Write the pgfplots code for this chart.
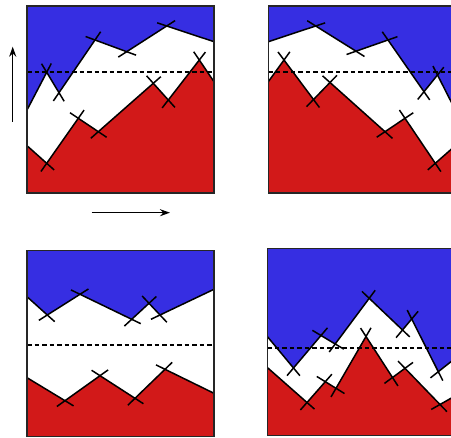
\documentclass[border=0pt]{standalone}
\usepackage{pgfplots}
\pgfplotsset{compat=1.18}
\usetikzlibrary{arrows.meta}

\definecolor{topblue}{RGB}{54,46,226}
\definecolor{botred}{RGB}{210,25,25}

\pgfplotsset{
  panel/.style={scale only axis, width=187pt, height=187pt, y dir=reverse,
    xtick=\empty, ytick=\empty, axis on top, anchor=south west,
    axis line style={line width=1.2pt, black!85}},
  edge/.style={black, line width=1.5pt, shorten <=-10pt, shorten >=-10pt,
    quiver={u=\thisrow{x2}-\thisrow{x}, v=\thisrow{y2}-\thisrow{y}}},
  level/.style={black, line width=2.3pt, dash pattern=on 4.5pt off 3pt},
}

\begin{document}
\begin{tikzpicture}
\useasboundingbox (0,0) rectangle (451pt,438pt);
\clip (0,0) rectangle (451pt,438pt);

% top left
\begin{axis}[panel, at={(27pt,245pt)}, xmin=27, xmax=214, ymin=6, ymax=193]
  \addplot[draw=none, fill=topblue] coordinates {
    (27,110) (46.7,72.3) (59,92.7) (95,40) (126.7,51.7) (166.7,26) (214,41.7) (214,6) (27,6)};
  \addplot[draw=none, fill=botred] coordinates {
    (27,145.7) (46.7,163.3) (78.3,118.3) (98.3,131.7) (153.3,83.3) (168.3,100) (199.3,60) (214,81.7) (214,193) (27,193)};
  \addplot[edge] table {
    x y x2 y2
    27 110 46.7 72.3
    46.7 72.3 59 92.7
    59 92.7 95 40
    95 40 126.7 51.7
    126.7 51.7 166.7 26
    166.7 26 214 41.7
  };
  \addplot[edge] table {
    x y x2 y2
    27 145.7 46.7 163.3
    46.7 163.3 78.3 118.3
    78.3 118.3 98.3 131.7
    98.3 131.7 153.3 83.3
    153.3 83.3 168.3 100
    168.3 100 199.3 60
    199.3 60 214 81.7
  };
  \addplot[level] coordinates {(27,72.3) (214,72.3)};
\end{axis}

% top right
\begin{axis}[panel, at={(268.3pt,245pt)}, xmin=268.3, xmax=455.3, ymin=6, ymax=193]
  \addplot[draw=none, fill=topblue] coordinates {
    (268.3,41.7) (315.7,26) (356,51.2) (388,40) (424,91.7) (437.5,75) (455.3,110) (455.3,6) (268.3,6)};
  \addplot[draw=none, fill=botred] coordinates {
    (268.3,81.7) (284,60) (313.5,99.5) (330,82.5) (385,131.7) (405,118.3) (435.3,163.3) (455.3,145.7) (455.3,193) (268.3,193)};
  \addplot[edge] table {
    x y x2 y2
    268.3 41.7 315.7 26
    315.7 26 356 51.2
    356 51.2 388 40
    388 40 424 91.7
    424 91.7 437.5 75
    437.5 75 455.3 110
  };
  \addplot[edge] table {
    x y x2 y2
    268.3 81.7 284 60
    284 60 313.5 99.5
    313.5 99.5 330 82.5
    330 82.5 385 131.7
    385 131.7 405 118.3
    405 118.3 435.3 163.3
    435.3 163.3 455.3 145.7
  };
  \addplot[level] coordinates {(268.3,71.7) (455.3,71.7)};
\end{axis}

% bottom left
\begin{axis}[panel, height=186pt, at={(27pt,1.3pt)}, xmin=27, xmax=214, ymin=250.7, ymax=436.7]
  \addplot[draw=none, fill=topblue] coordinates {
    (27,296.7) (47.3,315) (80,294.3) (131.7,319.3) (149,303.3) (160,315) (214,289.3) (214,250.7) (27,250.7)};
  \addplot[draw=none, fill=botred] coordinates {
    (27,377.7) (65,400.7) (100,375.7) (135,398.3) (165,369.3) (214,393.3) (214,436.7) (27,436.7)};
  \addplot[edge] table {
    x y x2 y2
    27 296.7 47.3 315
    47.3 315 80 294.3
    80 294.3 131.7 319.3
    131.7 319.3 149 303.3
    149 303.3 160 315
    160 315 214 289.3
  };
  \addplot[edge] table {
    x y x2 y2
    27 377.7 65 400.7
    65 400.7 100 375.7
    100 375.7 135 398.3
    135 398.3 165 369.3
    165 369.3 214 393.3
  };
  \addplot[level] coordinates {(27,345) (214,345)};
\end{axis}

% bottom right
\begin{axis}[panel, at={(267.3pt,2.3pt)}, xmin=267.3, xmax=454.3, ymin=248.7, ymax=435.7]
  \addplot[draw=none, fill=topblue] coordinates {
    (267.3,336.5) (293.5,368) (321,335.5) (335.2,344) (369.2,298.3) (402.5,330) (411.7,319) (438.3,371.7) (455,358.5) (455,248.7) (267.3,248.7)};
  \addplot[draw=none, fill=botred] coordinates {
    (267.3,367.5) (307,402.5) (325.3,381.7) (336,388.3) (366,336.5) (392.5,377.5) (405,368.3) (440,404.5) (455,396) (455,435.7) (267.3,435.7)};
  \addplot[edge] table {
    x y x2 y2
    267.3 336.5 293.5 368
    293.5 368 321 335.5
    321 335.5 335.2 344
    335.2 344 369.2 298.3
    369.2 298.3 402.5 330
    402.5 330 411.7 319
    411.7 319 438.3 371.7
    438.3 371.7 455 358.5
  };
  \addplot[edge] table {
    x y x2 y2
    267.3 367.5 307 402.5
    307 402.5 325.3 381.7
    325.3 381.7 336 388.3
    336 388.3 366 336.5
    366 336.5 392.5 377.5
    392.5 377.5 405 368.3
    405 368.3 440 404.5
    440 404.5 455 396
  };
  \addplot[level] coordinates {(267.3,348.3) (454.3,348.3)};
\end{axis}

% direction arrows
\draw[line width=1.5pt, -{Stealth[length=10pt, width=7pt]}] (12.7pt,316.3pt) -- (12.7pt,391.3pt);
\draw[line width=1.5pt, -{Stealth[length=10pt, width=7pt]}] (91.7pt,225.3pt) -- (170pt,225.3pt);
\end{tikzpicture}
\end{document}
